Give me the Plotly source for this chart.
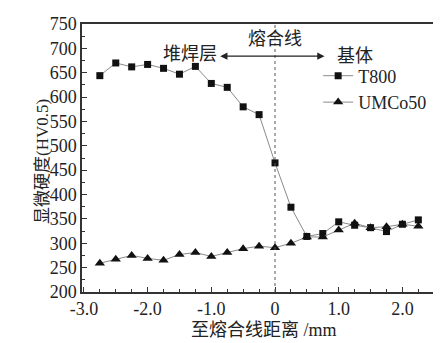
import plotly.graph_objects as go

distance = [-2.75, -2.5, -2.25, -2.0, -1.75, -1.5, -1.25, -1.0, -0.75, -0.5, -0.25,
            0.0, 0.25, 0.5, 0.75, 1.0, 1.25, 1.5, 1.75, 2.0, 2.25]
t800 = [644, 670, 662, 667, 659, 647, 663, 628, 620, 580, 564,
        465, 374, 314, 320, 344, 337, 332, 324, 339, 348]
umco50 = [259, 267, 275, 269, 265, 277, 281, 273, 281, 289, 294,
          291, 300, 313, 313, 327, 341, 332, 334, 339, 335]
x_tickvals = [-3.0, -2.0, -1.0, 0.0, 1.0, 2.0]
x_ticktext = ["-3.0", "-2.0", "-1.0", "0", "1.0", "2.0"]
y_tickvals = [200, 250, 300, 350, 400, 450, 500, 550, 600, 650, 700, 750]

FONT = "Liberation Serif, Times New Roman, Noto Sans CJK SC, serif"

fig = go.Figure()
fig.add_trace(go.Scatter(
    x=distance, y=t800, mode="lines+markers", name="T800",
    line=dict(color="#8a8a8a", width=1),
    marker=dict(symbol="square", size=7, color="#111111"),
))
fig.add_trace(go.Scatter(
    x=distance, y=umco50, mode="lines+markers", name="UMCo50",
    line=dict(color="#8a8a8a", width=1),
    marker=dict(symbol="triangle-up", size=9, color="#111111"),
))

# fusion line
fig.add_shape(type="line", x0=0, x1=0, y0=200, y1=750, xref="x", yref="y",
              line=dict(color="#555555", width=1, dash="dot"))

# double-headed arrow
fig.add_annotation(x=-0.86, y=684, ax=0.8, ay=684, xref="x", yref="y",
                   axref="x", ayref="y", text="", showarrow=True,
                   arrowhead=2, startarrowhead=2, arrowside="end+start",
                   arrowsize=1.2, startarrowsize=1.2, arrowwidth=1.2,
                   arrowcolor="#222222")
fig.add_annotation(x=-1.33, y=688, xref="x", yref="y", text="堆焊层",
                   showarrow=False, font=dict(family=FONT, size=18, color="#222222"))
fig.add_annotation(x=0.0, y=720, xref="x", yref="y", text="熔合线",
                   showarrow=False, font=dict(family=FONT, size=18, color="#222222"))
fig.add_annotation(x=1.26, y=685, xref="x", yref="y", text="基体",
                   showarrow=False, font=dict(family=FONT, size=18, color="#222222"))

# axis titles
fig.add_annotation(x=-0.107, y=0.489, xref="paper", yref="paper",
                   text="显微硬度(HV0.5)", textangle=-90, showarrow=False,
                   xanchor="center", yanchor="middle",
                   font=dict(family=FONT, size=17, color="#222222"))
fig.add_annotation(x=0.499, y=-0.142, xref="paper", yref="paper",
                   text="至熔合线距离 /mm", showarrow=False,
                   xanchor="center", yanchor="middle",
                   font=dict(family=FONT, size=18, color="#222222"))

fig.update_layout(
    width=441, height=343,
    margin=dict(l=74, r=0, t=16, b=59),
    paper_bgcolor="white", plot_bgcolor="white",
    font=dict(family=FONT, size=18, color="#222222"),
    showlegend=True,
    legend=dict(x=0.647, y=0.875, xanchor="left", yanchor="top",
                bgcolor="rgba(0,0,0,0)", font=dict(family=FONT, size=18),
                itemwidth=30, tracegroupgap=0),
    xaxis=dict(
        range=[-3.03, 2.7], tickvals=x_tickvals, ticktext=x_ticktext,
        showgrid=False, zeroline=False, showline=True, linecolor="#333333",
        linewidth=1.5, mirror=True, ticks="inside", ticklen=5,
        tickcolor="#333333",
        minor=dict(dtick=0.25, ticks="inside", ticklen=3, tickcolor="#333333"),
        tickfont=dict(family=FONT, size=18),
    ),
    yaxis=dict(
        range=[200, 750], tickvals=y_tickvals,
        showgrid=False, zeroline=False, showline=True, linecolor="#333333",
        linewidth=1.5, mirror=True, ticks="inside", ticklen=5,
        tickcolor="#333333",
        minor=dict(dtick=25, ticks="inside", ticklen=3, tickcolor="#333333"),
        tickfont=dict(family=FONT, size=18),
    ),
)

fig.write_html("out.html")
